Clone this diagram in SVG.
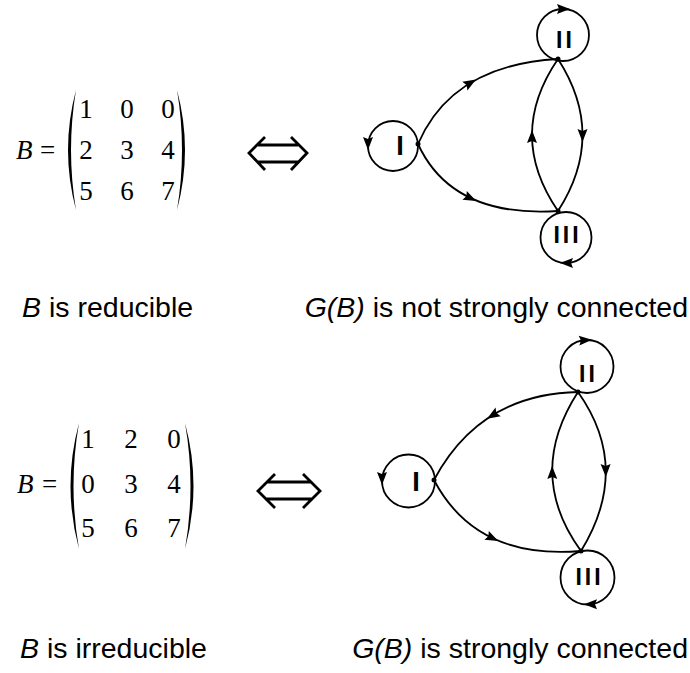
<svg xmlns="http://www.w3.org/2000/svg" xmlns:xlink="http://www.w3.org/1999/xlink" width="690" height="673" viewBox="0 0 690 673">
<style>
.m{font-family:"Liberation Serif","Times New Roman",serif;font-size:27px;fill:#000}
.mi{font-style:italic}
.d{text-anchor:middle}
.cap{font-family:"Liberation Sans",Arial,sans-serif;font-size:28.5px;fill:#000}
.lab{font-family:"Liberation Sans",Arial,sans-serif;font-weight:bold;fill:#000;text-anchor:middle}
.node{fill:none;stroke:#000;stroke-width:1.8}
.edge{fill:none;stroke:#000;stroke-width:1.8}
.dot{fill:#000}
.par{fill:#000}
.dbl{fill:none;stroke:#000;stroke-width:2.8;stroke-linejoin:miter}
</style>
<defs>
<path id="ah" d="M7,0 L-6,-5 L-4,0 L-6,5 Z" fill="#000"/>
</defs>
<rect width="690" height="673" fill="#fff"/>

<g id="matrix-top">
<text class="m mi" x="16" y="159">B</text>
<text class="m" x="40" y="159">=</text>
<path class="par" d="M76,90 Q60,150 76,210 Q66,150 76,90 Z"/>
<path class="par" d="M177,90 Q193,150 177,210 Q187,150 177,90 Z"/>
<text class="m d" x="86" y="118">1</text><text class="m d" x="127" y="118">0</text><text class="m d" x="168" y="118">0</text>
<text class="m d" x="86" y="159">2</text><text class="m d" x="127" y="159">3</text><text class="m d" x="168" y="159">4</text>
<text class="m d" x="86" y="200">5</text><text class="m d" x="127" y="200">6</text><text class="m d" x="168" y="200">7</text>
</g>

<g id="equiv-top">
<path class="dbl" d="M265,137 L249,153 L265,170 M291,137 L307,153 L291,170 M258,145 L298,145 M257,162 L299,162"/>
</g>

<g id="matrix-bottom">
<text class="m mi" x="17" y="493">B</text>
<text class="m" x="42" y="493">=</text>
<path class="par" d="M79,423 Q62,486 79,549 Q68,486 79,423 Z"/>
<path class="par" d="M185,423 Q202,486 185,549 Q196,486 185,423 Z"/>
<text class="m d" x="88" y="448">1</text><text class="m d" x="131" y="448">2</text><text class="m d" x="174" y="448">0</text>
<text class="m d" x="88" y="493">0</text><text class="m d" x="131" y="493">3</text><text class="m d" x="174" y="493">4</text>
<text class="m d" x="88" y="537">5</text><text class="m d" x="131" y="537">6</text><text class="m d" x="174" y="537">7</text>
</g>

<g id="equiv-bottom">
<path class="dbl" d="M275,474 L258,491 L275,508 M303,474 L320,491 L303,508 M267,482 L311,482 M266,499 L312,499"/>
</g>

<g id="top-I"><circle class="node" cx="393" cy="146" r="25"/><text class="lab" x="400" y="155" font-size="27">I</text></g>
<g id="top-II"><circle class="node" cx="563" cy="35" r="26"/><text class="lab" x="565.5" y="48" font-size="23" letter-spacing="3">II</text></g>
<g id="top-III"><circle class="node" cx="566" cy="237.5" r="25.5"/><text class="lab" x="567.5" y="243" font-size="23" letter-spacing="3">III</text></g>

<g id="bot-I"><circle class="node" cx="408.5" cy="481" r="26.5"/><text class="lab" x="416" y="491" font-size="27">I</text></g>
<g id="bot-II"><circle class="node" cx="587" cy="366.5" r="26.5"/><text class="lab" x="588.5" y="382" font-size="23" letter-spacing="3">II</text></g>
<g id="bot-III"><circle class="node" cx="587.5" cy="577.5" r="27"/><text class="lab" x="589.5" y="585" font-size="23" letter-spacing="3">III</text></g>

<g id="connectors">
<path class="edge" d="M418,144 Q452,65 558,59"/>
<path class="edge" d="M418,144 Q452,218 558,211"/>
<path class="edge" d="M558,59 Q607,135 558,211"/>
<path class="edge" d="M558,211 Q506,135 558,59"/>
<circle class="dot" cx="418" cy="144" r="2.5"/>
<circle class="dot" cx="558" cy="59" r="2.5"/>
<circle class="dot" cx="558" cy="211" r="2.5"/>
<use xlink:href="#ah" transform="translate(470,83) rotate(-31)"/>
<use xlink:href="#ah" transform="translate(470,198) rotate(26)"/>
<use xlink:href="#ah" transform="translate(582.5,135) rotate(90)"/>
<use xlink:href="#ah" transform="translate(532,137) rotate(-90)"/>
<use xlink:href="#ah" transform="translate(368,143) rotate(90)"/>
<use xlink:href="#ah" transform="translate(563,9) rotate(0)"/>
<use xlink:href="#ah" transform="translate(567,263) rotate(180)"/>

<path class="edge" d="M578,392 Q480,394 434,480"/>
<path class="edge" d="M434,480 Q476,560 581,551"/>
<path class="edge" d="M578,392 Q632,468 581,551"/>
<path class="edge" d="M581,551 Q525,474 578,392"/>
<circle class="dot" cx="434" cy="480" r="2.5"/>
<circle class="dot" cx="578" cy="392" r="2.5"/>
<circle class="dot" cx="581" cy="551" r="2.5"/>
<use xlink:href="#ah" transform="translate(493,415) rotate(148.6)"/>
<use xlink:href="#ah" transform="translate(492,538) rotate(26)"/>
<use xlink:href="#ah" transform="translate(605.7,470) rotate(89)"/>
<use xlink:href="#ah" transform="translate(552.2,473) rotate(-91)"/>
<use xlink:href="#ah" transform="translate(382,478) rotate(90)"/>
<use xlink:href="#ah" transform="translate(585,340.2) rotate(-4)"/>
<use xlink:href="#ah" transform="translate(591,604.3) rotate(180)"/>
</g>

<g id="captions">
<text class="cap" x="22" y="317"><tspan font-style="italic">B</tspan> is reducible</text>
<text class="cap" x="688" y="317" text-anchor="end"><tspan font-style="italic">G(B)</tspan> is not strongly connected</text>
<text class="cap" x="20" y="658"><tspan font-style="italic">B</tspan> is irreducible</text>
<text class="cap" x="688" y="658" text-anchor="end"><tspan font-style="italic">G(B)</tspan> is strongly connected</text>
</g>
</svg>
